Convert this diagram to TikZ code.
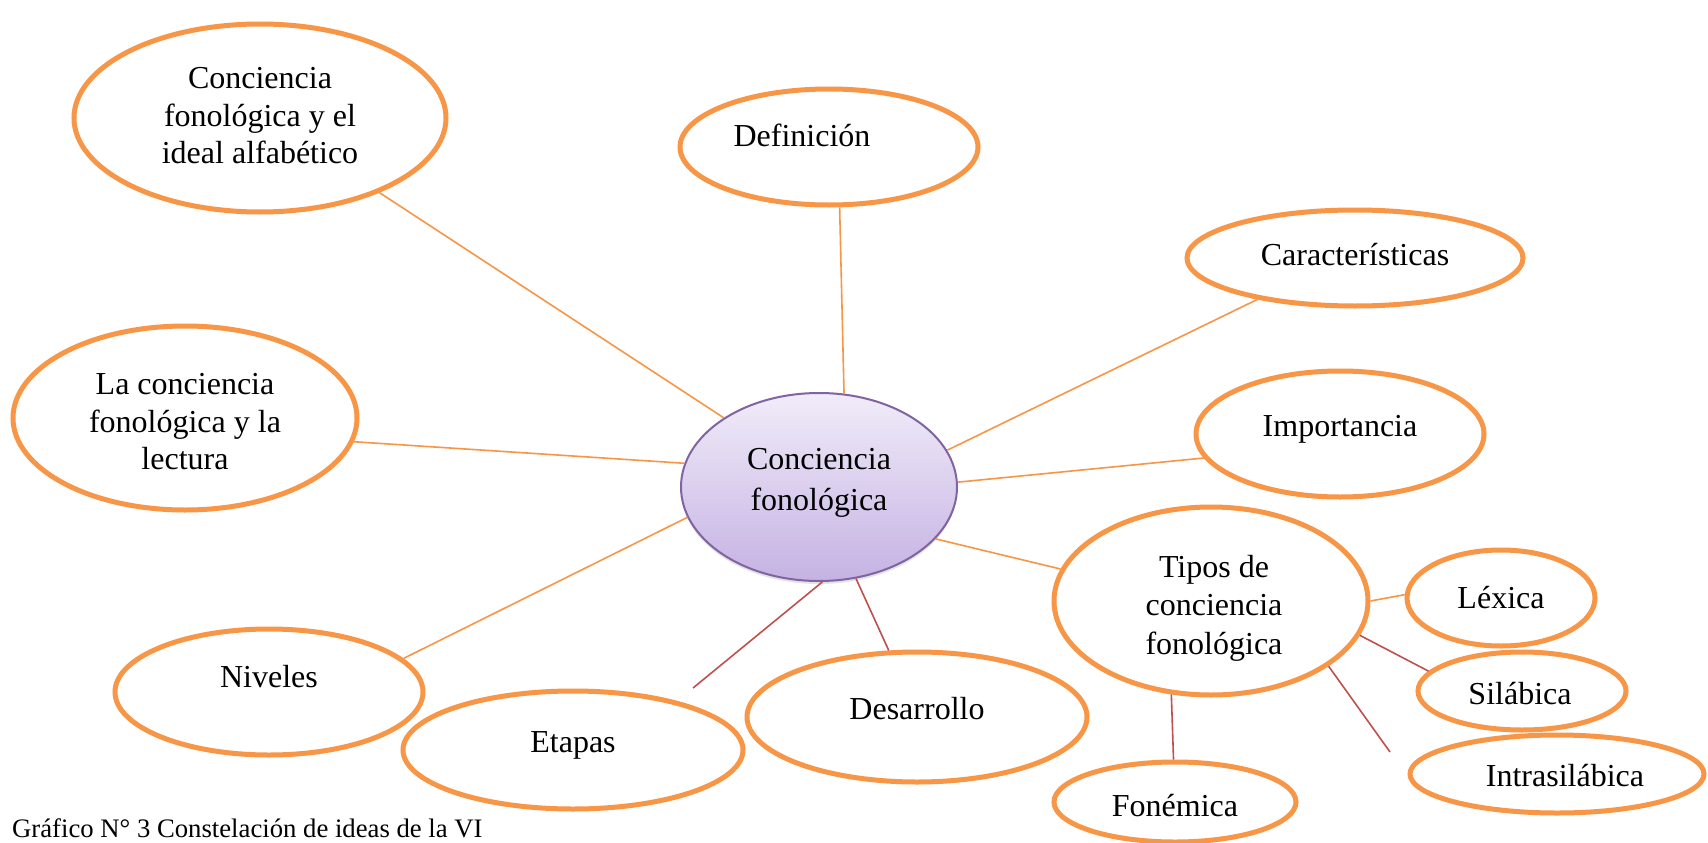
\documentclass[tikz,border=0pt]{standalone}
\usepackage{fontspec}
\setmainfont{Liberation Serif}
\usetikzlibrary{shapes.geometric,shadows}
\definecolor{org}{HTML}{F79646}
\definecolor{redl}{HTML}{C0504D}
\definecolor{purp}{HTML}{8064A2}
\definecolor{ltop}{HTML}{F1ECF9}
\definecolor{lbot}{HTML}{C5B2E3}
\begin{document}
\begin{tikzpicture}[x=1pt,y=-1pt,
  bubble/.style={ellipse, draw=org, line width=5pt, fill=white, inner sep=0pt},
  txt/.style={font=\fontsize{32}{37.5}\selectfont, align=center, inner sep=0pt},
  core/.style={ellipse, draw=purp, line width=2pt, top color=ltop, bottom color=lbot, inner sep=0pt,
    drop shadow={opacity=0.22, shadow xshift=0pt, shadow yshift=-3pt}},
  olink/.style={draw=org, line width=1.6pt},
  rlink/.style={draw=redl, line width=1.6pt}]
\useasboundingbox (0,0) rectangle (1708,843);
\fill[white] (0,0) rectangle (1708,843);

\node[bubble, minimum width=372pt, minimum height=188pt,
  label={[txt,yshift=2pt]center:Conciencia\\fonológica y el\\ideal alfabético}] (ideal) at (260,118) {};
\node[bubble, minimum width=298pt, minimum height=116pt,
  label={[txt,xshift=-27pt,yshift=12pt]center:Definición}] (def) at (829,147) {};
\node[bubble, minimum width=336pt, minimum height=96pt,
  label={[txt,yshift=3pt]center:Características}] (car) at (1355,258) {};
\node[bubble, minimum width=344pt, minimum height=184pt,
  label={[txt,yshift=-4pt]center:La conciencia\\fonológica y la\\lectura}] (lec) at (185,418) {};
\node[bubble, minimum width=288pt, minimum height=126pt,
  label={[txt,yshift=5pt]center:Importancia}] (imp) at (1340,434) {};
\node[bubble, minimum width=308pt, minimum height=126pt,
  label={[txt,yshift=15pt]center:Niveles}] (niv) at (269,692) {};
\node[bubble, minimum width=340pt, minimum height=130pt,
  label={[txt,yshift=8pt]center:Desarrollo}] (des) at (917,717) {};
\node[bubble, minimum width=340pt, minimum height=118pt,
  label={[txt,yshift=5pt]center:Etapas}] (eta) at (573,750) {};
\node[bubble, minimum width=188pt, minimum height=96pt,
  label={[txt]center:Léxica}] (lex) at (1501,598) {};
\node[bubble, minimum width=294pt, minimum height=78pt,
  label={[txt,xshift=8pt,yshift=-2pt]center:Intrasilábica}] (intra) at (1557,774) {};
\node[bubble, minimum width=208pt, minimum height=78pt,
  label={[txt,xshift=-2pt,yshift=-3pt]center:Silábica}] (sil) at (1522,691) {};
\node[bubble, minimum width=242pt, minimum height=80pt,
  label={[txt,yshift=-4pt]center:Fonémica}] (fon) at (1175,802) {};
\node[bubble, minimum width=314pt, minimum height=188pt,
  label={[txt,font=\fontsize{32}{38.5}\selectfont,xshift=3pt,yshift=-7pt]center:Tipos de\\conciencia\\fonológica}] (tipos) at (1211,601) {};
\node[core, minimum width=276pt, minimum height=188pt,
  label={[txt,font=\fontsize{32}{41}\selectfont,yshift=4pt]center:Conciencia\\fonológica}] (c) at (819,487) {};

\coordinate (etaend) at (693,688);
\coordinate (intraend) at (1390,752);

\draw[olink] (ideal.328.9) -- (c.144.1);
\draw[olink] (def.280) -- (c.75.2);
\draw[olink] (car.203.3) -- (c.16.2);
\draw[olink] (lec.352.5) -- (c.170.6);
\draw[olink] (imp.190.9) -- (c.2.4);
\draw[olink] (niv.14.7) -- (c.193.7);
\draw[olink] (c.336.2) -- (tipos.168.1);
\draw[rlink] (c.272) -- (etaend);
\draw[rlink] (c.292.5) -- (des.113.4);
\draw[olink] (tipos.0.7) -- (lex.178.8);
\draw[rlink] (tipos.347.1) -- (sil.168.9);
\draw[rlink] (tipos.331.2) -- (intraend);
\draw[rlink] (tipos.247.4) -- (fon.92.4);

\node[anchor=base west, inner sep=0pt, font=\fontsize{26.7}{30}\selectfont] (cap) at (12,837) {Gráfico N° 3 Constelación de ideas de la VI};
\end{tikzpicture}
\end{document}
